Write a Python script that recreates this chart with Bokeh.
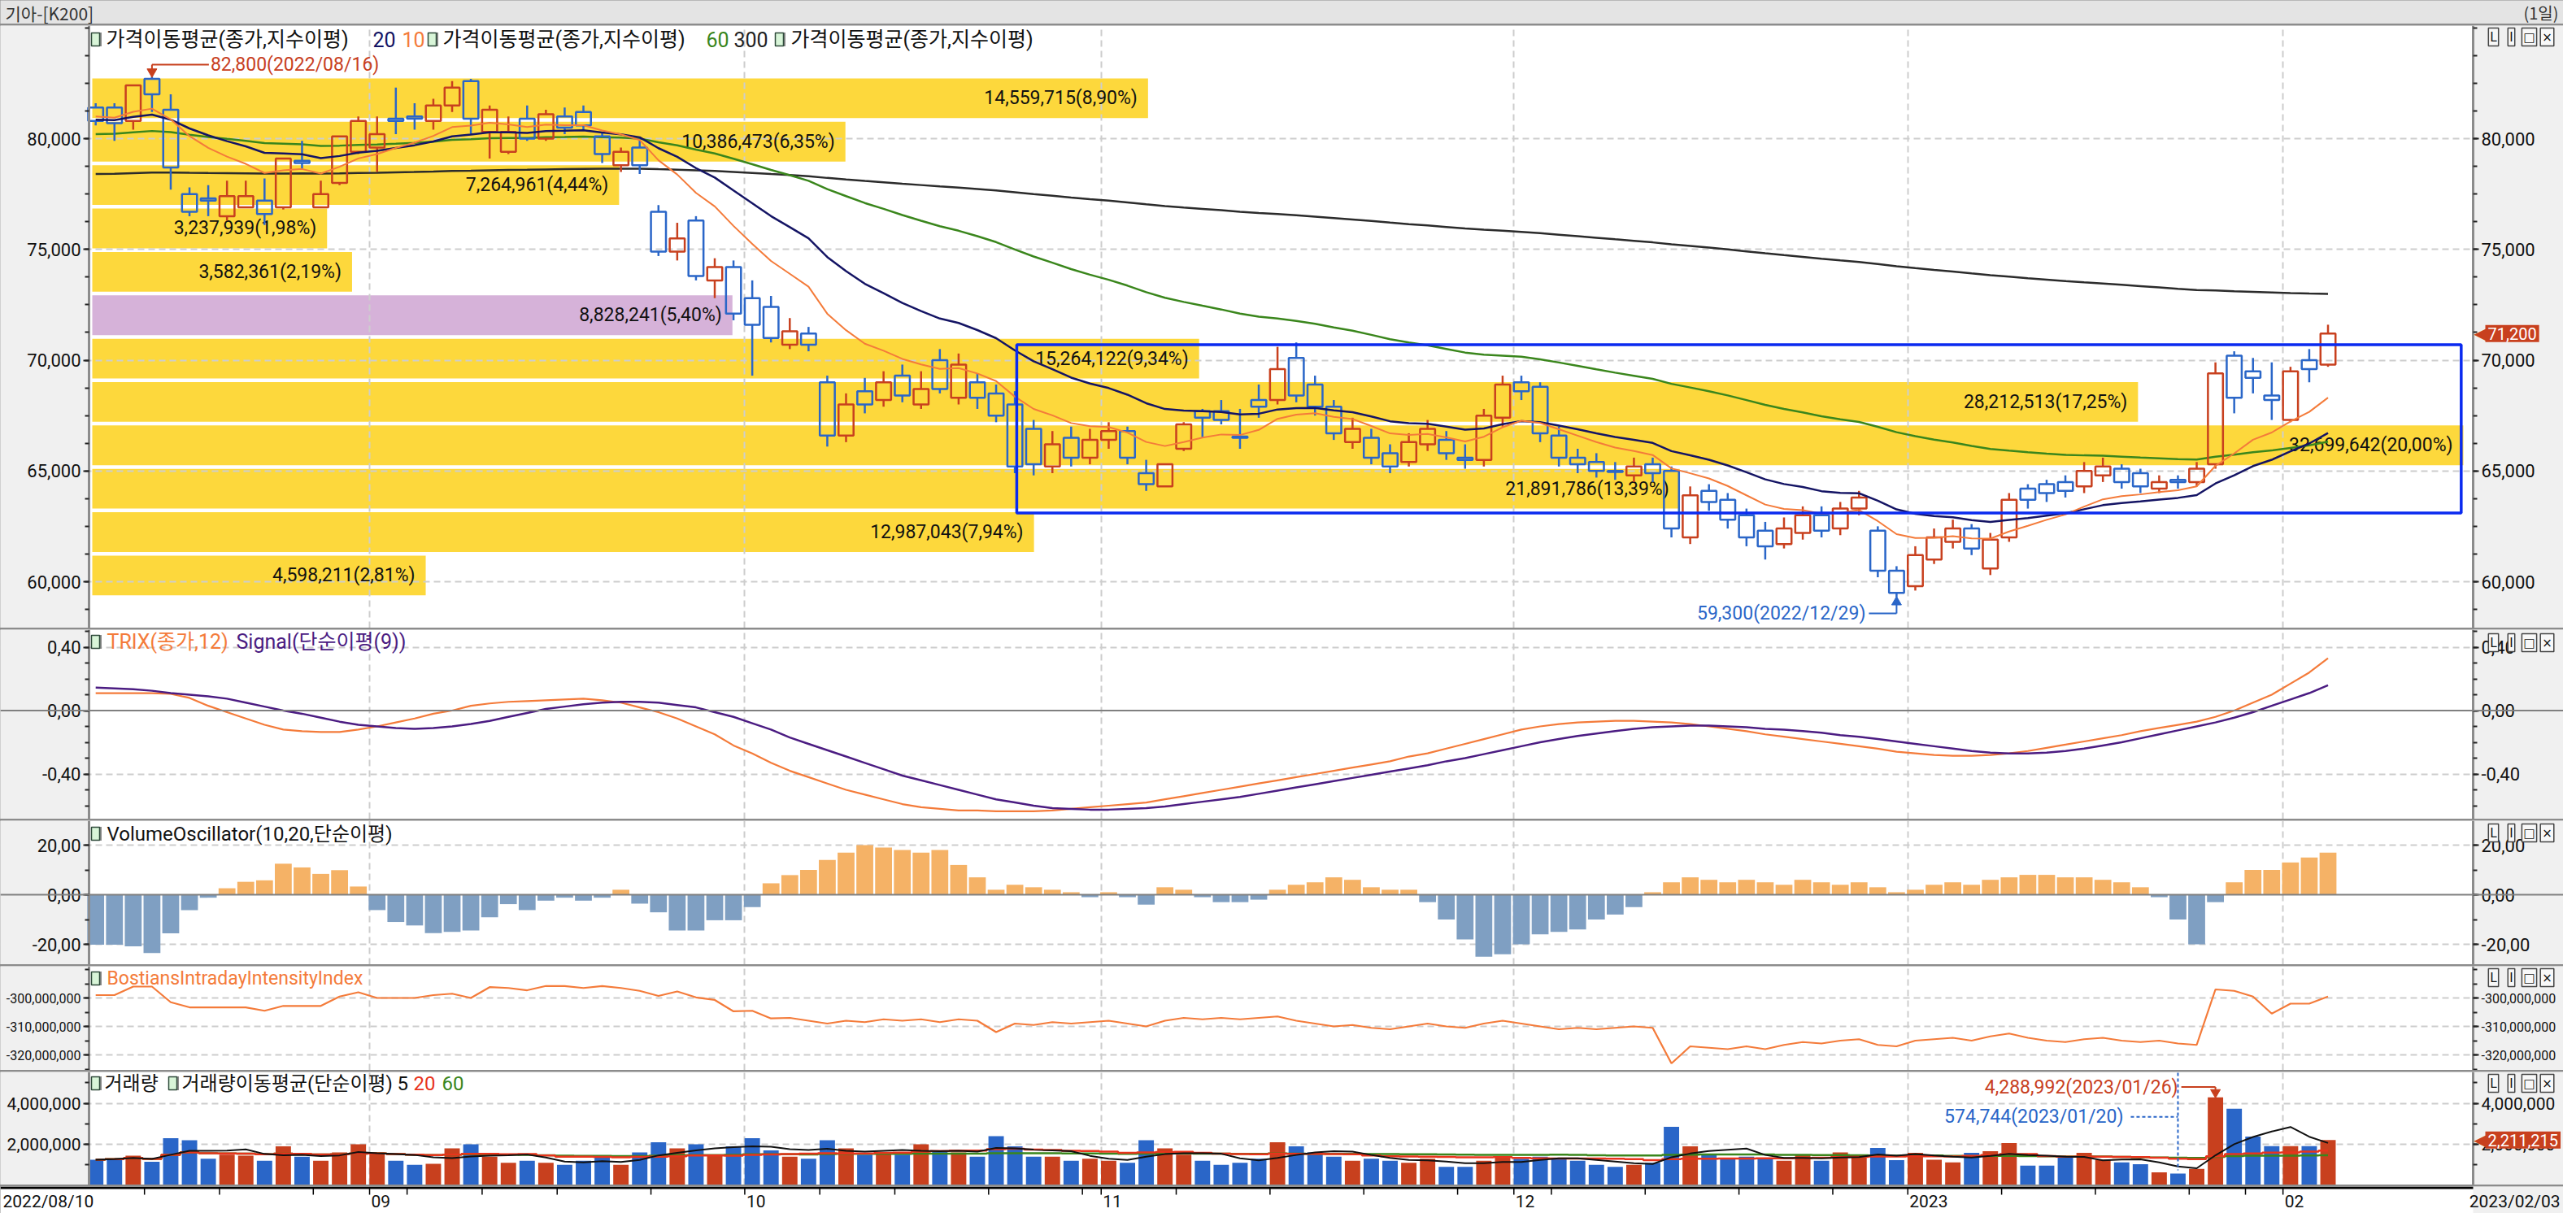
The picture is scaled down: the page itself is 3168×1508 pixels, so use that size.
import numpy as np
import pandas as pd
from bokeh.plotting import figure
from bokeh.models import (Range1d, LinearAxis, FixedTicker, Label, Span, Grid, BoxAnnotation,
                          NumeralTickFormatter, CustomJSTickFormatter)
from bokeh.layouts import column
from bokeh.embed import file_html
from bokeh.resources import INLINE
from bokeh.core.properties import value

# ---------------- data ----------------
holidays = ["2022-08-15", "2022-09-09", "2022-09-12", "2022-10-03", "2022-10-10",
            "2022-12-30", "2023-01-23", "2023-01-24"]
dates = [d for d in pd.bdate_range("2022-08-10", "2023-02-03")
         if d.strftime("%Y-%m-%d") not in holidays]

open_ = [81400,81400,80800,82700,81300,77500,77300,76500,76900,77200,
         76900,79000,76900,78000,79400,79600,80900,81000,80800,81500,
         82600,80300,79400,80900,80000,81000,81200,80100,78800,79600,
         76700,74900,76300,73600,74200,72800,72400,70700,71200,69000,
         66600,68600,68200,69300,68000,70000,68300,69000,68500,68000,
         66900,65200,66500,65600,66400,66800,64900,64300,66000,67700,
         67700,66550,68200,68200,70100,68900,67900,66300,66500,65800,
         65400,66200,66400,65600,65500,67400,69000,68800,66600,65600,
         65400,65000,64800,65300,65000,62000,64100,63700,63000,62300,
         61700,62200,63000,62400,63300,62300,60500,59800,61000,61800,
         62400,60600,62000,64200,64400,64500,64300,64800,65100,64900,
         64200,64600,64500,65300,70200,69500,68400,67300,70000,69800]
high = [81600,81600,82400,82800,82000,77800,77900,78100,78100,78200,
        79100,79900,78100,80100,81000,81000,82300,81600,81800,82600,
        82700,81500,81000,81500,81300,81400,81500,80300,79600,80000,
        77000,76200,76500,74600,74500,73600,72900,71900,71500,69300,
        68500,69200,69500,69800,69500,70500,70300,69400,68900,68600,
        67300,66800,67000,66900,67200,67000,65500,65300,67200,67800,
        68200,67800,68900,70600,70800,69300,68200,67400,66900,66200,
        66700,67300,66800,66200,67800,69300,69300,69000,67000,66000,
        65800,65400,65600,65600,65200,64300,64400,64000,63300,62700,
        62900,63400,63400,63600,64100,62500,60700,61600,62400,62800,
        62600,62200,64000,64400,64600,64800,65400,65600,65300,65100,
        64800,64800,65400,69900,70400,70100,69900,69700,70500,71600]
low = [80600,79900,80400,81200,77700,76500,76500,76300,76900,76100,
       76800,78600,76900,77900,79300,78500,80200,80400,80400,81200,
       80200,79100,79300,79900,79900,80200,80400,78900,78500,78400,
       74700,74500,73600,72800,71800,69300,70800,70500,70400,66100,
       66300,67600,67900,68100,67800,68500,68000,67800,67200,64900,
       64800,64900,65200,65300,66000,65300,64100,64300,65900,66500,
       67100,66000,67400,68000,68100,67500,66400,66000,65300,64900,
       65200,65900,65500,65100,65200,67000,68200,66300,65200,64900,
       64700,64600,64500,64500,62000,61700,63200,62400,61600,61000,
       61500,61900,62000,62100,63000,60200,59300,59600,60800,61500,
       61200,60300,61800,63300,63600,63800,64000,64500,64200,64000,
       64000,64200,64300,65100,67600,68500,67300,67200,69000,69700]
close = [80800,80700,82400,82000,78700,76700,77200,77400,77400,76600,
         79100,78900,77500,80100,80800,80200,80800,80900,81500,82300,
         80900,81300,80300,80000,81100,80500,80600,79300,79400,78800,
         74900,75500,73800,74200,72100,71600,71000,71300,70700,66600,
         68000,68000,69000,68400,68700,68700,69800,68300,67500,65200,
         65300,66200,65600,66400,66800,65600,64400,65300,67100,67400,
         67300,66500,67900,69600,68400,67900,66700,66900,65600,65200,
         66300,66900,65800,65500,67500,68900,68600,66700,65600,65300,
         65000,64950,65200,64900,62400,63900,63600,62800,62000,61600,
         62400,63000,62300,63300,63800,60500,59500,61200,62000,62400,
         61500,61900,63700,63700,64000,64100,65000,65200,64500,64300,
         64500,64500,65100,69400,68300,69200,68200,69500,69600,71200]
volume = [1250000,1300000,1450000,1150000,2300000,2200000,1300000,1500000,1450000,1200000,
          1900000,1400000,1200000,1600000,2000000,1600000,1200000,1000000,1050000,1800000,
          2000000,1400000,1100000,1200000,1100000,1000000,1200000,1400000,1000000,1600000,
          2100000,1800000,2000000,1500000,1900000,2300000,1700000,1400000,1300000,2200000,
          1800000,1500000,1600000,1500000,2000000,1700000,1600000,1400000,2400000,1900000,
          1400000,1400000,1200000,1300000,1200000,1100000,2200000,1800000,1500000,1200000,
          1000000,1100000,1300000,2100000,1900000,1600000,1400000,1200000,1300000,1200000,
          1100000,1300000,900000,900000,1200000,1400000,1300000,1400000,1300000,1200000,
          1000000,900000,1000000,1100000,2850000,1900000,1500000,1300000,1400000,1300000,
          1200000,1500000,1200000,1600000,1400000,1820000,1230000,1580000,1250000,1120000,
          1580000,1660000,2060000,960000,960000,1360000,1580000,1250000,1120000,1030000,
          630000,574744,800000,4288992,3730000,2380000,1910000,1910000,1910000,2211215]
# moving-average values at the first bar
ma_seed = {10: 81000, 20: 80850, 60: 80200, 300: 78400}
trix = [0.11,0.11,0.11,0.11,0.105,0.08,0.03,-0.01,-0.05,-0.09,
        -0.12,-0.13,-0.135,-0.135,-0.12,-0.10,-0.075,-0.05,-0.02,0.0,
        0.03,0.045,0.055,0.06,0.065,0.07,0.075,0.065,0.05,0.02,
        -0.01,-0.05,-0.10,-0.15,-0.22,-0.27,-0.33,-0.38,-0.42,-0.46,
        -0.50,-0.53,-0.56,-0.59,-0.61,-0.62,-0.63,-0.63,-0.635,-0.635,
        -0.635,-0.63,-0.62,-0.61,-0.60,-0.59,-0.58,-0.56,-0.54,-0.52,
        -0.50,-0.48,-0.46,-0.44,-0.42,-0.40,-0.38,-0.36,-0.34,-0.32,
        -0.29,-0.27,-0.24,-0.21,-0.18,-0.15,-0.12,-0.10,-0.085,-0.075,
        -0.07,-0.065,-0.065,-0.07,-0.075,-0.085,-0.10,-0.115,-0.13,-0.15,
        -0.165,-0.18,-0.195,-0.21,-0.225,-0.24,-0.26,-0.27,-0.28,-0.285,
        -0.285,-0.28,-0.27,-0.255,-0.235,-0.215,-0.195,-0.175,-0.155,-0.13,
        -0.11,-0.09,-0.07,-0.04,0.0,0.05,0.10,0.17,0.24,0.33]
signal = [0.145,0.14,0.135,0.125,0.11,0.10,0.09,0.075,0.05,0.025,
          0.0,-0.02,-0.045,-0.07,-0.09,-0.10,-0.11,-0.115,-0.11,-0.10,
          -0.085,-0.065,-0.04,-0.015,0.01,0.025,0.04,0.05,0.055,0.055,
          0.05,0.035,0.02,-0.01,-0.04,-0.08,-0.12,-0.17,-0.21,-0.25,
          -0.29,-0.33,-0.37,-0.41,-0.44,-0.47,-0.50,-0.53,-0.56,-0.58,
          -0.60,-0.615,-0.62,-0.625,-0.625,-0.62,-0.615,-0.605,-0.59,-0.575,
          -0.56,-0.545,-0.525,-0.505,-0.485,-0.465,-0.445,-0.425,-0.405,-0.385,
          -0.365,-0.345,-0.32,-0.30,-0.275,-0.25,-0.225,-0.20,-0.18,-0.16,
          -0.145,-0.13,-0.115,-0.105,-0.10,-0.095,-0.095,-0.10,-0.105,-0.115,
          -0.12,-0.13,-0.14,-0.155,-0.165,-0.18,-0.195,-0.21,-0.225,-0.24,
          -0.255,-0.265,-0.27,-0.27,-0.265,-0.255,-0.24,-0.22,-0.20,-0.175,
          -0.15,-0.125,-0.10,-0.075,-0.045,-0.01,0.03,0.07,0.11,0.16]
vo = [-20.2,-20.2,-20.8,-23.5,-15.6,-6.2,-1.2,2.6,5.2,5.8,
      12.5,11.0,8.4,9.9,3.3,-6.2,-11.0,-12.4,-15.5,-15.0,
      -14.4,-9.1,-3.8,-6.2,-2.4,-1.2,-2.4,-1.2,2.0,-3.6,
      -7.1,-14.4,-14.4,-10.3,-10.3,-5.0,4.6,7.9,10.0,14.0,
      17.0,20.0,19.0,18.0,17.0,18.0,12.0,7.0,2.0,4.0,
      3.0,2.0,1.0,-1.0,1.0,-1.0,-4.0,3.0,2.0,-1.0,
      -3.0,-3.0,-2.0,2.0,4.0,5.0,7.0,6.0,3.0,2.0,
      2.0,-3.0,-10.0,-18.0,-25.0,-24.0,-20.0,-16.0,-15.0,-14.0,
      -10.0,-8.0,-5.0,1.0,5.0,7.0,6.0,5.0,6.0,5.0,
      4.0,6.0,5.0,4.0,5.0,3.0,1.0,2.0,4.0,5.0,
      4.0,6.0,7.0,8.0,8.0,7.0,7.0,6.0,5.0,3.0,
      -1.0,-10.0,-20.0,-3.0,5.0,10.0,10.0,13.0,15.0,17.0]
bii_m = [-299,-299,-296,-296,-301.5,-303.3,-303.3,-303.3,-303.3,-304.5,
         -302.8,-302.8,-302.8,-299.5,-298,-300,-300,-300,-299,-298.5,
         -300,-296.2,-296.5,-297.3,-295.8,-295.8,-296.5,-295.8,-296.5,-297.5,
         -299.3,-297.7,-299.8,-300.7,-304.7,-304.5,-307.2,-307,-308,-309,
         -308,-308.5,-307.5,-308,-307.5,-308.5,-307.5,-308,-312,-309,
         -309.5,-308.5,-309,-308.5,-308,-309,-310,-308,-307,-307.5,
         -307,-307.5,-307,-306.5,-308,-309,-310,-309.5,-310.5,-311,
         -310,-309,-310,-310.5,-309,-308,-309,-310,-311,-310.5,
         -311,-310.5,-310,-310.5,-323,-317,-317.5,-318,-317,-318,
         -316.5,-315.5,-316,-315,-314.5,-316.5,-317,-315,-314.5,-314,
         -315,-313.5,-312.5,-314,-315,-315.5,-314.5,-314,-315,-315.5,
         -315,-316,-316.5,-297,-297.5,-299.5,-305.5,-302,-302,-299.5]
# volume profile (price bands, bottom to top)
profile_vol = [4598211, 12987043, 21891786, 32699642, 28212513, 15264122,
               8828241, 3582361, 3237939, 7264961, 10386473, 14559715]
# user-drawn box on the price panel
box_x = [49.1, 126.1]
box_y = [63100, 70700]

# ---------------- style constants ----------------
W = 3152
BL = 109                    # width of the left scale strip
PX = 23.07                  # pixels per trading day
X0 = -0.355                 # left scale line (data x)
X1 = X0 + 2932 / PX         # right scale line (data x)
XS = X0 - BL / PX           # figure left edge
XE = XS + W / PX            # figure right edge
N = len(dates)
xs = np.arange(N)

FN = "Roboto, 'Noto Sans CJK KR', sans-serif"
FK = "'Noto Sans CJK KR', Roboto, sans-serif"
FS = "'DejaVu Sans', sans-serif"
RED = "#c8401e"
BLUE = "#2a66c8"
YEL = "#fdd83c"
PUR = "#d6b2d9"
ORG = "#f47b3a"
NAVY = "#141464"
GRN = "#3a861c"
GRID = "#cdcdcd"
AXBG = "#f0f0f0"

def px_x(page_x):
    return X0 + (page_x - 117) / PX

def main_y(py): return 80000 + (178 - py) / 27.25 * 1000
def trix_y(py): return (881.5 - py) / 195.0
def vo_y(py): return (1108 - py) / 3.05
def bii_y(py): return -300e6 + (1235 - py) / 3.5 * 1e6
def vol_y(py): return (1465.5 - py) / 25.25 * 1e6

month_idx = [i for i in range(1, N) if dates[i].month != dates[i - 1].month]
month_pos = [i - 0.4 for i in month_idx]
week_idx = [i for i in range(1, N)
            if dates[i].isocalendar()[1] != dates[i - 1].isocalendar()[1]]

def lab(p, x, y, text, color="#111", size="24px", font=FN, align="left",
        baseline="middle", **kw):
    l = Label(x=x, y=y, text=text, text_color=color, text_font_size=size,
              text_font=font, text_align=align, text_baseline=baseline, **kw)
    p.add_layout(l)
    return l

def style_axis(ax, lsize):
    ax.axis_line_color = "#8c8c8c"
    ax.axis_line_width = 3
    ax.major_tick_line_color = "#222"
    ax.major_tick_line_width = 2
    ax.major_tick_out = 7
    ax.major_tick_in = 0
    ax.minor_tick_line_color = "#222"
    ax.minor_tick_line_width = 2
    ax.minor_tick_out = 5
    ax.minor_tick_in = 0
    ax.major_label_text_font = FN
    ax.major_label_text_font_size = lsize
    ax.major_label_text_color = "#111"
    ax.major_label_standoff = 3

def make_panel(h, yr, majors, minors, fmts, grid_ticks, lsize="22px"):
    p = figure(width=W, height=h, x_range=Range1d(XS, XE), y_range=Range1d(*yr),
               toolbar_location=None, output_backend="svg",
               x_axis_location=None, y_axis_location=None, min_border=0,
               min_border_left=0, min_border_right=0, min_border_top=0, min_border_bottom=0,
               background_fill_color="white", border_fill_color=AXBG,
               outline_line_color=None)
    p.grid.visible = False
    p.add_layout(Grid(dimension=1, ticker=FixedTicker(ticks=grid_ticks),
                      grid_line_color=GRID, grid_line_width=2, grid_line_dash="8 5"))
    p.add_layout(Grid(dimension=0, ticker=FixedTicker(ticks=month_pos),
                      grid_line_color=GRID, grid_line_width=2, grid_line_dash="8 5"))
    # grey scale strips
    p.quad(left=[XS, X1], right=[X0, XE], bottom=[yr[0]] * 2, top=[yr[1]] * 2,
           fill_color=AXBG, line_color=None)
    for side, loc, f in (("left", X0, fmts[0]), ("right", X1, fmts[1])):
        ax = LinearAxis(ticker=FixedTicker(ticks=majors, minor_ticks=minors), formatter=f,
                        fixed_location=loc)
        style_axis(ax, lsize)
        p.add_layout(ax, side)
    return p

def icon(p, px, y):
    p.rect(x=[px_x(px + 2)], y=[y], width=11, height=17, width_units="screen",
           height_units="screen", fill_color="#8a8a8a", line_color=None)
    p.rect(x=[px_x(px)], y=[y], width=10, height=16, width_units="screen",
           height_units="screen", fill_color="#d8f5d8", line_color="#2e4a3a", line_width=1.5)

def ctrl_icons(p, yc):
    for k, t in enumerate(["L", "I", "□", "×"]):
        lab(p, px_x(3074 + 22 * k), yc, t, color="#111", size="15px",
            font=FS, align="center", background_fill_color="#f8f8f8",
            border_line_color="#444", border_line_width=1.5, padding=2)

def tag(p, yv, text):
    lab(p, px_x(3050), yv, "◀", color=RED, size="20px", font=FS)
    lab(p, px_x(3064), yv, text, color="white", size="20px", font=FN,
        background_fill_color=RED, padding=3)

def ema(vals, n, seed):
    a = 2.0 / (n + 1)
    out = [float(seed)]
    for v in vals[1:]:
        out.append(out[-1] + a * (v - out[-1]))
    return out

comma_dec = "return tick.toFixed(2).replace('.', ',');"
num0 = lambda: NumeralTickFormatter(format="0,0")
dec2 = lambda: CustomJSTickFormatter(code=comma_dec)

# ---------------- title bar ----------------
pt = figure(width=W, height=29, x_range=Range1d(0, W), y_range=Range1d(0, 29),
            toolbar_location=None, output_backend="svg", x_axis_location=None,
            y_axis_location=None, min_border=0, min_border_left=0, min_border_right=0,
            min_border_top=0, min_border_bottom=0, background_fill_color="#e4e4e4",
            border_fill_color="#e4e4e4", outline_line_color=None)
pt.grid.visible = False
lab(pt, 6, 14, "기아-[K200]", color="#333", size="21px", font=FK)
lab(pt, W - 6, 14, "(1일)", color="#333", size="20px", font=FK, align="right")

# ---------------- price panel ----------------
pm = make_panel(741, (main_y(780), main_y(39)), [60000, 65000, 70000, 75000, 80000],
                list(range(57500, 86250, 1250)), (num0(), num0()),
                [60000, 65000, 70000, 75000, 80000])

pr_low, pr_high = min(low), max(high)
band = (pr_high - pr_low) / 12.0
mids = [pr_low + band * (k + 0.5) for k in range(12)]
x_start = px_x(121)
Lmax = (3037 - 121) / PX
vmax = max(profile_vol)
ends = [x_start + v / vmax * Lmax for v in profile_vol]
cur_band = int((close[-1] - pr_low) // band)
pcols = [PUR if k == cur_band else YEL for k in range(12)]
pm.hbar(y=mids, height=band - 165, left=x_start, right=ends, fill_color=pcols,
        line_color=None, level="image")
tot = sum(profile_vol)
plabels = ["{:,}({}%)".format(v, ("%.2f" % (v / tot * 100)).replace(".", ",")) for v in profile_vol]
pm.text(x=[e - 13 / PX for e in ends], y=mids, text=plabels, text_align="right",
        text_baseline="middle", text_font=value(FN), text_font_size="23px", text_color="#111")

ma300 = ema(close, 300, ma_seed[300])
ma60 = ema(close, 60, ma_seed[60])
ma20 = ema(close, 20, ma_seed[20])
ma10 = ema(close, 10, ma_seed[10])
pm.line(xs, ma300, line_color="#2b2b2b", line_width=2.5)
pm.line(xs, ma60, line_color=GRN, line_width=2.5)

ccol = [RED if c >= o else BLUE for o, c in zip(open_, close)]
top = [max(o, c) for o, c in zip(open_, close)]
bot = [min(o, c) for o, c in zip(open_, close)]
pm.segment(x0=xs, y0=high, x1=xs, y1=top, line_color=ccol, line_width=2.5)
pm.segment(x0=xs, y0=bot, x1=xs, y1=low, line_color=ccol, line_width=2.5)
pm.vbar(x=xs, width=0.8, top=top, bottom=bot, fill_alpha=0, line_color=ccol, line_width=2.5)

pm.line(xs, ma20, line_color=NAVY, line_width=2.5)
pm.line(xs, ma10, line_color=ORG, line_width=2)

pm.add_layout(BoxAnnotation(left=box_x[0], right=box_x[1], bottom=box_y[0], top=box_y[1],
                            fill_alpha=0, line_color="#0a2af0", line_alpha=1.0, line_width=3.5))

i_hi = int(np.argmax(high)); hi = high[i_hi]
yl = hi + 14.7 / 27.25 * 1000
pm.segment(x0=[i_hi], y0=[yl], x1=[i_hi + 70 / PX], y1=[yl], line_color=RED, line_width=2)
pm.segment(x0=[i_hi], y0=[yl], x1=[i_hi], y1=[hi + 300], line_color=RED, line_width=2)
pm.scatter(x=[i_hi], y=[hi + 220], marker="inverted_triangle", size=12, color=RED)
lab(pm, i_hi + 72 / PX, yl, "{:,}({})".format(hi, dates[i_hi].strftime("%Y/%m/%d")),
    color=RED, size="23px")

i_lo = int(np.argmin(low)); lo = low[i_lo]
yl2 = lo - 20 / 27.25 * 1000
pm.segment(x0=[i_lo - 34 / PX], y0=[yl2], x1=[i_lo], y1=[yl2], line_color=BLUE, line_width=2)
pm.segment(x0=[i_lo], y0=[yl2], x1=[i_lo], y1=[lo - 300], line_color=BLUE, line_width=2)
pm.scatter(x=[i_lo], y=[lo - 220], marker="triangle", size=12, color=BLUE)
lab(pm, i_lo - 38 / PX, yl2, "{:,}({})".format(lo, dates[i_lo].strftime("%Y/%m/%d")),
    color=BLUE, size="23px", align="right")

yL = main_y(56)
icon(pm, 125, yL)
lab(pm, px_x(138), yL, "가격이동평균(종가,지수이평)", size="25px")
lab(pm, px_x(466), yL, "20", color=NAVY, size="25px")
lab(pm, px_x(502), yL, "10", color=ORG, size="25px")
icon(pm, 539, yL)
lab(pm, px_x(552), yL, "가격이동평균(종가,지수이평)", size="25px")
lab(pm, px_x(876), yL, "60", color=GRN, size="25px")
lab(pm, px_x(910), yL, "300", color="#222", size="25px")
icon(pm, 966, yL)
lab(pm, px_x(980), yL, "가격이동평균(종가,지수이평)", size="25px")
ctrl_icons(pm, main_y(53))
tag(pm, close[-1], "{:,}".format(close[-1]))

# ---------------- TRIX panel ----------------
ptx = make_panel(233, (trix_y(1015), trix_y(782)), [-0.4, 0.0, 0.4],
                 [round(-0.6 + 0.1 * k, 2) for k in range(12)], (dec2(), dec2()),
                 [-0.4, 0.4])
ptx.add_layout(Span(location=0, dimension="width", line_color="#808080", line_width=2))
ptx.line(xs, trix, line_color=ORG, line_width=2.2)
ptx.line(xs, signal, line_color="#4b1c82", line_width=2.5)
yT = trix_y(797)
icon(ptx, 125, yT)
lab(ptx, px_x(139), yT, "TRIX(종가,12)", color=ORG, size="25px")
lab(ptx, px_x(298), yT, "Signal(단순이평(9))", color="#4b1c82", size="25px")
ctrl_icons(ptx, trix_y(798))

# ---------------- Volume oscillator ----------------
pvo = make_panel(177, (vo_y(1194), vo_y(1017)), [-20, 0, 20], [-20, -10, 0, 10, 20],
                 (dec2(), dec2()), [-20, 20])
vcol = ["#f5b266" if v >= 0 else "#7f9fc2" for v in vo]
pvo.vbar(x=xs, width=0.9, top=vo, bottom=0, fill_color=vcol, line_color=None)
pvo.add_layout(Span(location=0, dimension="width", line_color="#808080", line_width=2))
yV = vo_y(1033)
icon(pvo, 125, yV)
lab(pvo, px_x(139), yV, "VolumeOscillator(10,20,단순이평)")
ctrl_icons(pvo, vo_y(1032))

# ---------------- Bostian intraday intensity ----------------
bii = [v * 1e6 for v in bii_m]
pb = make_panel(128, (bii_y(1324), bii_y(1196)), [-320e6, -310e6, -300e6],
                [-325e6 + 5e6 * k for k in range(8)], (num0(), num0()),
                [-320e6, -310e6, -300e6], lsize="16px")
pb.line(xs, bii, line_color=ORG, line_width=2.2)
yB = bii_y(1211)
icon(pb, 125, yB)
lab(pb, px_x(139), yB, "BostiansIntradayIntensityIndex", color=ORG, size="23px")
ctrl_icons(pb, bii_y(1210))

# ---------------- Volume ----------------
pv = make_panel(139, (vol_y(1465), vol_y(1326)), [2e6, 4e6], [1e6 * k for k in range(6)],
                (num0(), num0()), [2e6, 4e6], lsize="21px")
pv.vbar(x=xs, width=0.82, top=volume, bottom=0, fill_color=ccol, line_color=None)
vs = pd.Series(volume, dtype=float)
vma5 = vs.rolling(5, min_periods=1).mean()
vma20 = vs.rolling(20, min_periods=1).mean()
vma60 = vs.rolling(60, min_periods=1).mean()
pv.step(xs, vma60, mode="center", line_color=GRN, line_width=2.5)
pv.step(xs, vma20, mode="center", line_color="#e8341c", line_width=2.5)
pv.line(xs, vma5, line_color="#111", line_width=2)

i_vm = int(np.argmax(volume)); vm = volume[i_vm]
yv1 = vm + 0.5e6
pv.segment(x0=[i_vm - 42 / PX], y0=[yv1], x1=[i_vm], y1=[yv1], line_color=RED, line_width=2)
pv.segment(x0=[i_vm], y0=[yv1], x1=[i_vm], y1=[vm + 0.3e6], line_color=RED, line_width=2)
pv.scatter(x=[i_vm], y=[vm + 0.24e6], marker="inverted_triangle", size=12, color=RED)
lab(pv, i_vm - 46 / PX, yv1, "{:,}({})".format(vm, dates[i_vm].strftime("%Y/%m/%d")),
    color=RED, size="23px", align="right")
i_vn = int(np.argmin(volume)); vn = volume[i_vn]
yv2 = vn + 2.76e6
pv.segment(x0=[i_vn - 58 / PX], y0=[yv2], x1=[i_vn], y1=[yv2], line_color=BLUE,
           line_width=2, line_dash="4 3")
pv.segment(x0=[i_vn], y0=[vol_y(1327)], x1=[i_vn], y1=[vn + 0.16e6], line_color=BLUE,
           line_width=2, line_dash="4 3")
lab(pv, i_vn - 67 / PX, yv2, "{:,}({})".format(vn, dates[i_vn].strftime("%Y/%m/%d")),
    color=BLUE, size="23px", align="right")
yVol = vol_y(1340)
icon(pv, 125, yVol)
lab(pv, px_x(136), yVol, "거래량", size="24px")
icon(pv, 220, yVol)
lab(pv, px_x(231), yVol, "거래량이동평균(단순이평)", size="24px")
lab(pv, px_x(496), yVol, "5", color="#111", size="24px")
lab(pv, px_x(516), yVol, "20", color="#e8341c", size="24px")
lab(pv, px_x(551), yVol, "60", color=GRN, size="24px")
ctrl_icons(pv, vol_y(1340))
tag(pv, volume[-1], "{:,}".format(volume[-1]))

# ---------------- date axis ----------------
pdx = figure(width=W, height=33, x_range=Range1d(XS, XE), y_range=Range1d(0, 33),
             toolbar_location=None, output_backend="svg", x_axis_location=None,
             y_axis_location=None, min_border=0, min_border_left=0, min_border_right=0,
             min_border_top=0, min_border_bottom=0, background_fill_color="white",
             border_fill_color="white", outline_line_color=None)
pdx.grid.visible = False
pdx.quad(left=[X1], right=[XE], bottom=[0], top=[33], fill_color=AXBG, line_color=None)
pdx.segment(x0=[XS], y0=[31.5], x1=[X1], y1=[31.5], line_color="black", line_width=3)
tick_x = sorted(set([i - 0.4 for i in week_idx] + month_pos))
pdx.segment(x0=tick_x, y0=[31] * len(tick_x), x1=tick_x, y1=[23] * len(tick_x),
            line_color="black", line_width=1.5)
mlabels = [str(dates[i].year) if dates[i].month == 1 else "%02d" % dates[i].month
           for i in month_idx]
pdx.text(x=[m + 2 / PX for m in month_pos], y=[15] * len(month_pos), text=mlabels,
         text_align="left", text_baseline="middle", text_font=value(FN),
         text_font_size="21px", text_color="#111")
pdx.text(x=[XS + 3 / PX, XE - 4 / PX], y=[15, 15],
         text=[dates[0].strftime("%Y/%m/%d"), dates[-1].strftime("%Y/%m/%d")],
         text_align=["left", "right"], text_baseline="middle", text_font=value(FN),
         text_font_size="21px", text_color="#111")

layout = column(pt, pm, ptx, pvo, pb, pv, pdx, spacing=2,
                styles={"background-color": "#8c8c8c"})
p = layout
open("out.html", "w").write(file_html(p, INLINE))
